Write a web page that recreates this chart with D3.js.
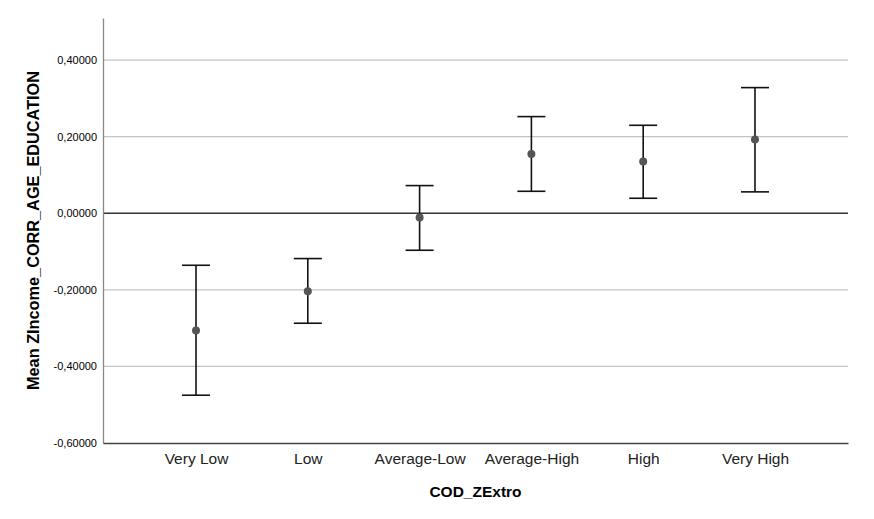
<!DOCTYPE html>
<html>
<head>
<meta charset="utf-8">
<script src="https://cdn.jsdelivr.net/npm/d3@7"></script>
<style>
  body { margin: 0; background: #fff; }
  text { font-family: "Liberation Sans", Arial, sans-serif; }
</style>
</head>
<body>
<div id="chart"></div>
<script>
const categories = ['Very Low', 'Low', 'Average-Low', 'Average-High', 'High', 'Very High'];
const means = [-0.3063, -0.2037, -0.0112, 0.1551, 0.1350, 0.1924];
const upper = [-0.1358, -0.1183, 0.0723, 0.2525, 0.2298, 0.3282];
const lower = [-0.4752, -0.2872, -0.0966, 0.0574, 0.0392, 0.0559];
const yTicks = [-0.6, -0.4, -0.2, 0, 0.2, 0.4];

function makeChart(node) {
    const rawWidth = 874, rawHeight = 519;
    const margin = { left: 103, right: 26, top: 18, bot: 76 };
    const width = rawWidth - margin.left - margin.right;
    const height = rawHeight - margin.top - margin.bot;

    const svg = d3.select(node).append('svg')
        .attr('width', rawWidth)
        .attr('height', rawHeight);

    const g = svg.append('g')
        .attr('transform', `translate(${margin.left},${margin.top})`);

    const x = d3.scalePoint().domain(categories).range([0, width]).padding(0.832);
    const y = d3.scaleLinear().domain([-0.6, 0.51]).range([height, 0]);

    const fmt = d => (d === 0 ? '0,00000' : d3.format('.5f')(d).replace('.', ',').replace('−', '-'));

    // gridlines
    g.selectAll('line.grid')
        .data(yTicks.filter(t => t !== 0 && t !== -0.6))
        .enter().append('line')
        .attr('class', 'grid')
        .attr('x1', 0).attr('x2', width)
        .attr('y1', d => y(d)).attr('y2', d => y(d))
        .attr('stroke', '#c4c4c4').attr('stroke-width', 1.3);

    // zero reference line
    g.append('line')
        .attr('x1', 0).attr('x2', width)
        .attr('y1', y(0)).attr('y2', y(0))
        .attr('stroke', '#333').attr('stroke-width', 1.4);

    // y axis
    const yAxis = g.append('g')
        .call(d3.axisLeft(y).tickValues(yTicks).tickSize(0).tickPadding(6).tickFormat(fmt));
    yAxis.select('.domain').attr('stroke', '#888').attr('stroke-width', 1.3);
    yAxis.selectAll('text').attr('font-size', 11).attr('fill', '#000');

    // x axis
    const xAxis = g.append('g')
        .attr('transform', `translate(0,${height})`)
        .call(d3.axisBottom(x).tickSize(0).tickPadding(10));
    xAxis.select('.domain').attr('stroke', '#444').attr('stroke-width', 1.3);
    xAxis.selectAll('text').attr('font-size', 15.5).attr('fill', '#222');

    // error bars
    const capW = 14;
    const bars = g.selectAll('g.bar')
        .data(categories.map((c, i) => ({ c, m: means[i], hi: upper[i], lo: lower[i] })))
        .enter().append('g').attr('class', 'bar');
    bars.append('line')
        .attr('x1', d => x(d.c)).attr('x2', d => x(d.c))
        .attr('y1', d => y(d.hi)).attr('y2', d => y(d.lo))
        .attr('stroke', '#111').attr('stroke-width', 1.6);
    bars.append('line')
        .attr('x1', d => x(d.c) - capW).attr('x2', d => x(d.c) + capW)
        .attr('y1', d => y(d.hi)).attr('y2', d => y(d.hi))
        .attr('stroke', '#111').attr('stroke-width', 1.6);
    bars.append('line')
        .attr('x1', d => x(d.c) - capW).attr('x2', d => x(d.c) + capW)
        .attr('y1', d => y(d.lo)).attr('y2', d => y(d.lo))
        .attr('stroke', '#111').attr('stroke-width', 1.6);
    bars.append('circle')
        .attr('cx', d => x(d.c)).attr('cy', d => y(d.m))
        .attr('r', 4).attr('fill', '#555');

    // axis titles
    svg.append('text')
        .attr('x', margin.left + width / 2).attr('y', 497)
        .attr('text-anchor', 'middle')
        .attr('font-size', 15.5).attr('font-weight', 'bold')
        .text('COD_ZExtro');
    svg.append('text')
        .attr('transform', `translate(39,${margin.top + height / 2}) rotate(-90)`)
        .attr('text-anchor', 'middle')
        .attr('font-size', 16.3).attr('font-weight', 'bold')
        .text('Mean ZIncome_CORR_AGE_EDUCATION');
}

makeChart(document.getElementById('chart'));
</script>
</body>
</html>
